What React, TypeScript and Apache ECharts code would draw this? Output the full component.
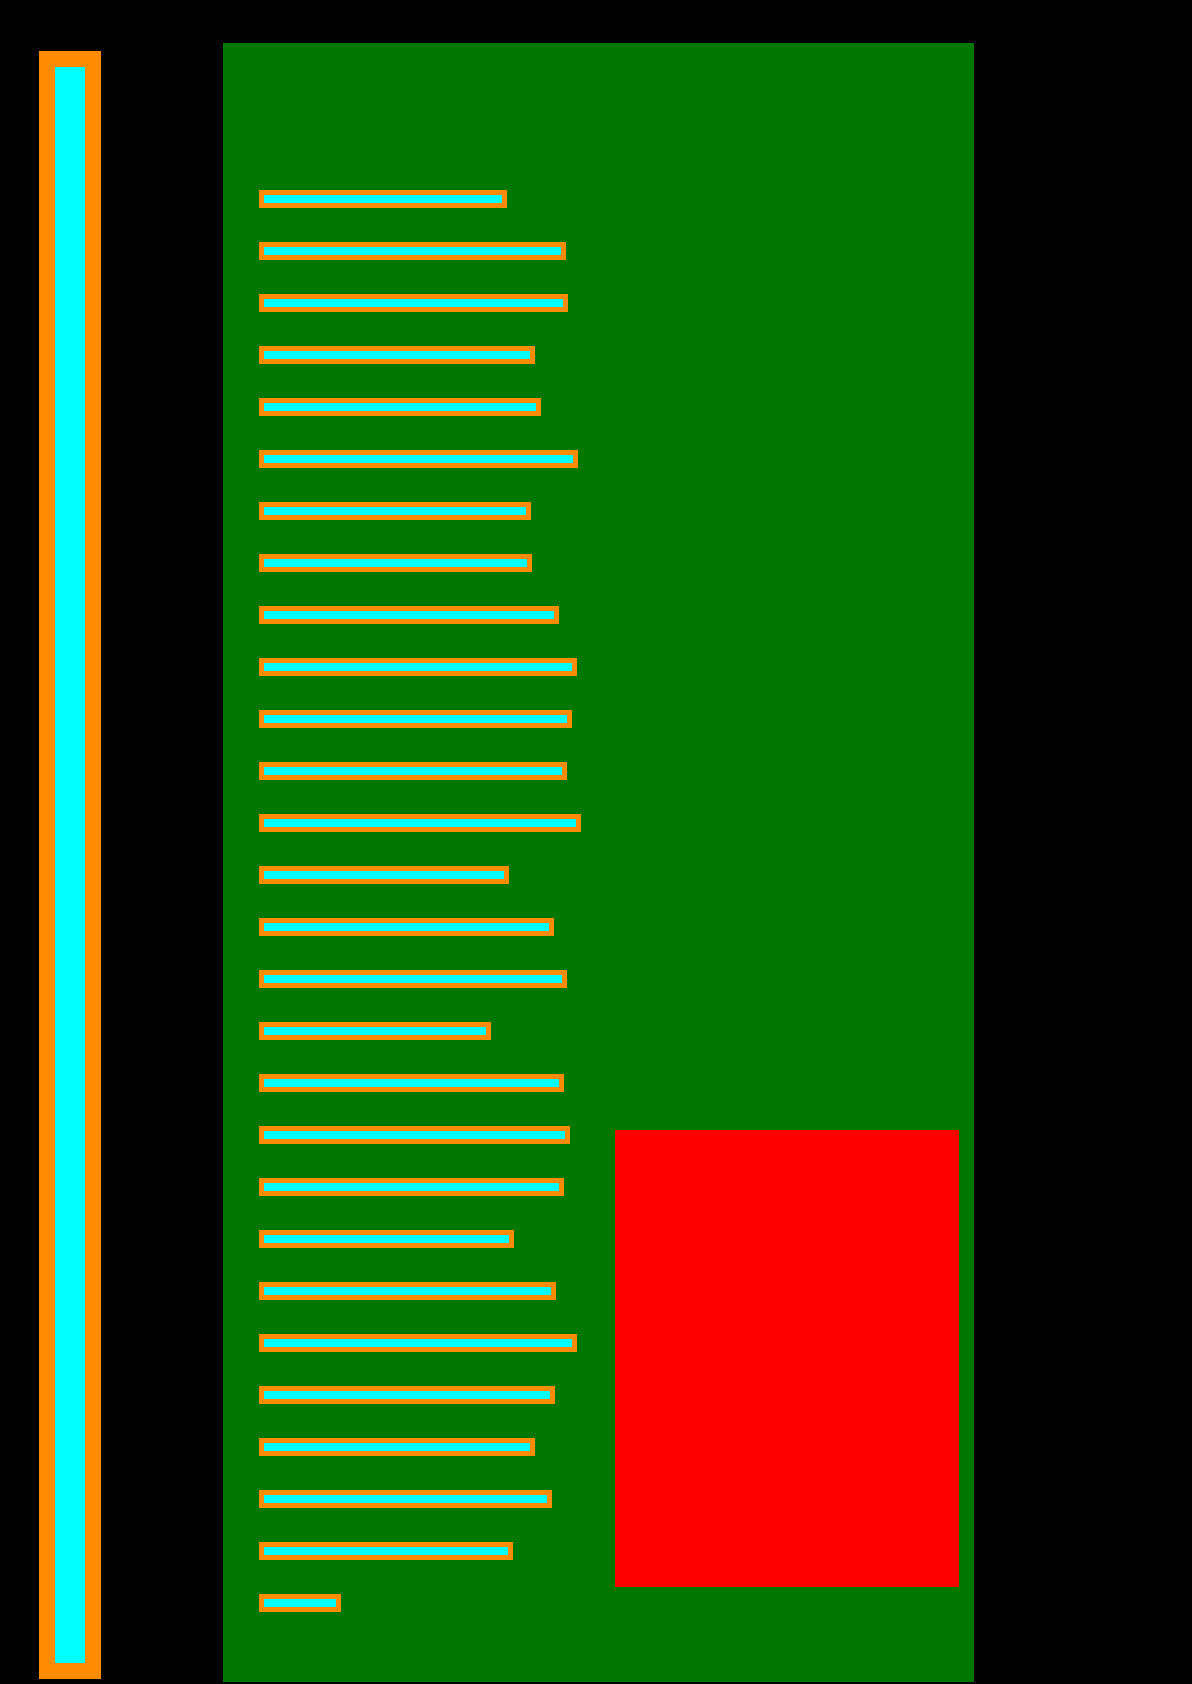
import React, { useEffect, useRef } from "react";
import * as echarts from "echarts";

const categories: string[] = Array.from({ length: 28 }, (_, i) => `C${i + 1}`);
const values: number[] = [
  248, 307, 309, 276, 282, 319, 272, 273, 300, 318, 313, 308, 322, 250,
  295, 308, 232, 305, 311, 305, 255, 297, 318, 296, 276, 293, 254, 82,
];

const ORANGE = "#FF8C00";
const CYAN = "#00FFFF";
const GREEN = "#007800";
const RED = "#FF0000";

export default function App() {
  const ref = useRef<HTMLDivElement>(null);
  useEffect(() => {
    document.body.style.margin = "0";
    document.body.style.background = "#000";
    if (!ref.current) return;
    const chart = echarts.init(ref.current, undefined, { renderer: "svg" });
    chart.setOption({
      animation: false,
      backgroundColor: "#000000",
      graphic: [
        {
          type: "rect",
          z: -10,
          shape: { x: 223, y: 43, width: 751, height: 1639 },
          style: { fill: GREEN },
        },
        {
          type: "rect",
          z: -5,
          shape: { x: 615, y: 1130, width: 344, height: 457 },
          style: { fill: RED },
        },
        {
          type: "rect",
          shape: { x: 47, y: 59, width: 46, height: 1612 },
          style: { fill: CYAN, stroke: ORANGE, lineWidth: 16 },
        },
      ],
      grid: { left: 259, top: 173, width: 700, height: 1456 },
      xAxis: {
        type: "value",
        min: 0,
        max: 700,
        show: false,
        splitLine: { show: false },
      },
      yAxis: {
        type: "category",
        data: categories,
        inverse: true,
        show: false,
      },
      series: [
        {
          type: "bar",
          data: values,
          barWidth: 18,
          itemStyle: { color: CYAN, borderColor: ORANGE, borderWidth: 5 },
          z: 5,
        },
      ],
    });
    return () => chart.dispose();
  }, []);
  return <div ref={ref} style={{ width: 1192, height: 1684 }} />;
}
